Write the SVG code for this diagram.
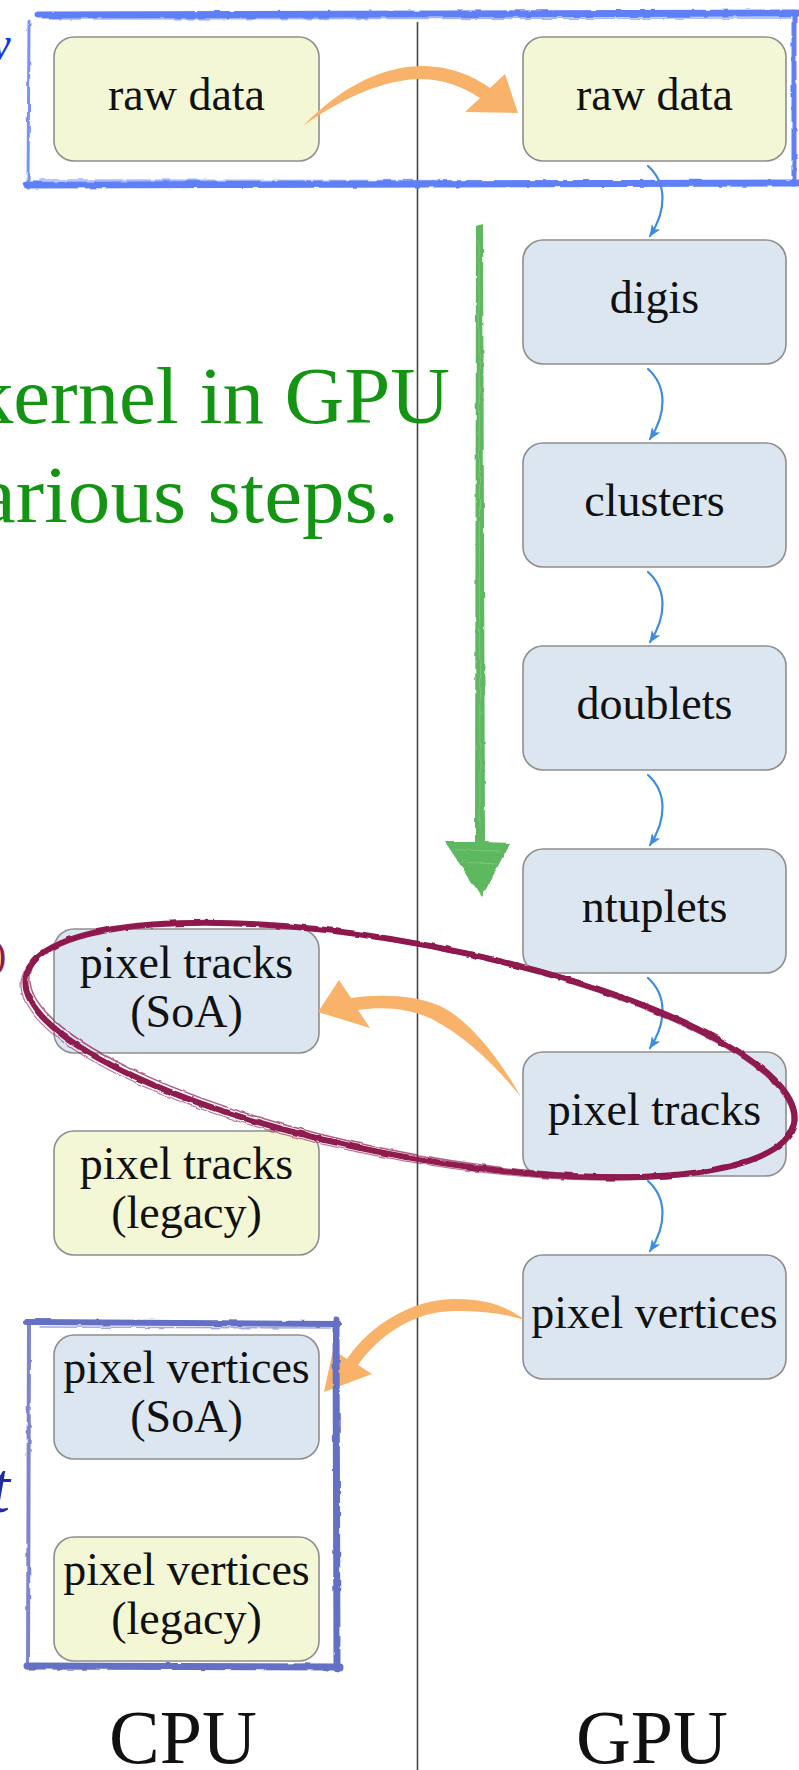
<svg xmlns="http://www.w3.org/2000/svg" width="799" height="1770" viewBox="0 0 799 1770">
<style>
.box{stroke:#8e8e8e;stroke-width:1.6}
.yel{fill:#F4F7D5}
.blu{fill:#DCE6F1}
.lbl{font-family:"Liberation Serif","Times New Roman",serif;font-size:46px;fill:#111;text-anchor:middle}
.cap{font-family:"Liberation Serif","Times New Roman",serif;font-size:76px;fill:#111;text-anchor:middle}
.green{font-family:"Liberation Serif","Times New Roman",serif;font-size:80px;fill:#139413}
.flow{fill:none;stroke:#3B8DE0;stroke-width:2.2;stroke-linecap:round}
.orange{fill:#F8B26A}
.tf{fill:none;stroke:#5F7FF7;stroke-linecap:round}
.bf{fill:none;stroke:#6470C4;stroke-linecap:round}
.ell{fill:none;stroke:#8F1A4F}
</style>
<defs>
<marker id="bh" viewBox="0 0 12 10" refX="11" refY="5" markerWidth="12" markerHeight="10" orient="auto" markerUnits="userSpaceOnUse">
<path d="M0,0 L12,5 L0,10 L3,5 Z" fill="#3B8DE0"/>
</marker>
<filter id="rough" filterUnits="userSpaceOnUse" x="0" y="0" width="799" height="1770">
<feTurbulence type="fractalNoise" baseFrequency="0.08" numOctaves="2" seed="3" result="n"/>
<feDisplacementMap in="SourceGraphic" in2="n" scale="3" xChannelSelector="R" yChannelSelector="G"/>
</filter>
</defs>

<!-- divider -->
<line id="divider" x1="417.5" y1="22" x2="417.5" y2="1770" stroke="#444" stroke-width="1.6"/>

<!-- cut-off margin texts -->
<text x="-21" y="60" font-family="'Liberation Serif',serif" font-style="italic" font-size="48" fill="#1536E8">w</text>
<text x="-7" y="968" font-family="'Liberation Serif',serif" font-size="40" fill="#8F1A4F">)</text>
<text x="-10" y="1512" font-family="'Liberation Serif',serif" font-style="italic" font-size="72" fill="#1d2f9e">t</text>

<!-- green annotation -->
<g id="note">
<text class="green" x="-28" y="423" textLength="478" lengthAdjust="spacingAndGlyphs">kernel in GPU</text>
<text class="green" x="-22" y="522" textLength="421" lengthAdjust="spacingAndGlyphs">arious steps.</text>
</g>
<g id="green-arrow" filter="url(#rough)">
<path d="M476 226 L483 224 L485 842 L510 843 L482 897 L445 842 L475 842 Z" fill="#5DB85E"/>
<path d="M479 240 L480 830 M455 850 L500 851 M462 862 L497 864" stroke="#8fd08f" stroke-width="1" opacity="0.6"/>
</g>

<!-- nodes -->
<g id="cpu-raw-data"><rect class="box yel" x="54" y="37" width="265" height="124" rx="20"/><text class="lbl" x="186.5" y="110">raw data</text></g>
<g id="gpu-raw-data"><rect class="box yel" x="523" y="37" width="263" height="124" rx="20"/><text class="lbl" x="654.5" y="110">raw data</text></g>
<g id="gpu-digis"><rect class="box blu" x="523" y="240" width="263" height="124" rx="20"/><text class="lbl" x="654.5" y="313">digis</text></g>
<g id="gpu-clusters"><rect class="box blu" x="523" y="443" width="263" height="124" rx="20"/><text class="lbl" x="654.5" y="516">clusters</text></g>
<g id="gpu-doublets"><rect class="box blu" x="523" y="646" width="263" height="124" rx="20"/><text class="lbl" x="654.5" y="719">doublets</text></g>
<g id="gpu-ntuplets"><rect class="box blu" x="523" y="849" width="263" height="124" rx="20"/><text class="lbl" x="654.5" y="922">ntuplets</text></g>
<g id="gpu-pixel-tracks"><rect class="box blu" x="523" y="1052" width="263" height="124" rx="20"/><text class="lbl" x="654.5" y="1125">pixel tracks</text></g>
<g id="gpu-pixel-vertices"><rect class="box blu" x="523" y="1255" width="263" height="124" rx="20"/><text class="lbl" x="654.5" y="1328">pixel vertices</text></g>
<g id="cpu-pixel-tracks-soa"><rect class="box blu" x="54" y="929" width="265" height="124" rx="20"/><text class="lbl" x="186.5" y="978">pixel tracks</text><text class="lbl" x="186.5" y="1027">(SoA)</text></g>
<g id="cpu-pixel-tracks-legacy"><rect class="box yel" x="54" y="1131" width="265" height="124" rx="20"/><text class="lbl" x="186.5" y="1179">pixel tracks</text><text class="lbl" x="186.5" y="1228">(legacy)</text></g>
<g id="cpu-pixel-vertices-soa"><rect class="box blu" x="54" y="1335" width="265" height="124" rx="20"/><text class="lbl" x="186.5" y="1383">pixel vertices</text><text class="lbl" x="186.5" y="1432">(SoA)</text></g>
<g id="cpu-pixel-vertices-legacy"><rect class="box yel" x="54" y="1537" width="265" height="124" rx="20"/><text class="lbl" x="186.5" y="1585">pixel vertices</text><text class="lbl" x="186.5" y="1634">(legacy)</text></g>

<!-- connectors -->
<g id="connectors">
<path class="flow" marker-end="url(#bh)" d="M648 166 C667 183, 667 210, 650 236"/>
<path class="flow" marker-end="url(#bh)" d="M648 369 C667 386, 667 413, 650 439"/>
<path class="flow" marker-end="url(#bh)" d="M648 572 C667 589, 667 616, 650 642"/>
<path class="flow" marker-end="url(#bh)" d="M648 775 C667 792, 667 819, 650 845"/>
<path class="flow" marker-end="url(#bh)" d="M648 978 C667 995, 667 1022, 650 1048"/>
<path class="flow" marker-end="url(#bh)" d="M648 1181 C667 1198, 667 1225, 650 1251"/>
<path class="orange" d="M303 126 C340 88, 380 67, 420 66 C450 66, 472 75, 490 88 L505 74 L518 113 L465 112 L480 98 C462 86, 442 79, 419 79 C385 80, 345 96, 303 126 Z"/>
<path class="orange" d="M521 1097 C500 1060, 470 1020, 440 1006 C415 995, 380 994, 351 998 L339 980 L318 1012 L370 1028 L358 1010 C385 1006, 410 1009, 432 1019 C465 1036, 495 1065, 521 1097 Z"/>
<path class="orange" d="M525 1320 C505 1305, 485 1299, 455 1299 C412 1299, 370 1325, 347 1359 L333 1350 L324 1392 L372 1374 L358 1365 C380 1334, 415 1311, 455 1311 C485 1311, 505 1314, 525 1320 Z"/>
</g>

<!-- highlight ellipse -->
<g id="highlight" filter="url(#rough)">
<ellipse class="ell" cx="410" cy="1050" rx="391" ry="106" transform="rotate(10.8 410 1050)" stroke-width="6"/>
<ellipse class="ell" cx="411" cy="1049" rx="388" ry="103" transform="rotate(11.2 411 1049)" stroke-width="1.5" opacity="0.7"/>
<ellipse class="ell" cx="409" cy="1051" rx="394" ry="109" transform="rotate(10.5 409 1051)" stroke-width="1.2" opacity="0.6"/>
</g>

<!-- frames -->
<g id="frame-top" filter="url(#rough)">
<path class="tf" d="M38 15 L797 13" stroke-width="7"/>
<path class="tf" d="M60 19 L790 18" stroke-width="1.5" opacity="0.6"/>
<path class="tf" d="M27 185 L797 183" stroke-width="7"/>
<path class="tf" d="M40 180 L780 181" stroke-width="1.5" opacity="0.6"/>
<path class="tf" d="M29 22 L28 188" stroke-width="3" opacity="0.85"/>
<path class="tf" d="M794 14 L794 184" stroke-width="5"/>
</g>
<g id="frame-bottom" filter="url(#rough)">
<path class="bf" d="M26 1322 L339 1324" stroke-width="6"/>
<path class="bf" d="M40 1327 L330 1328" stroke-width="1.5" opacity="0.6"/>
<path class="bf" d="M336 1320 L337 1668" stroke-width="7"/>
<path class="bf" d="M27 1666 L340 1667" stroke-width="7"/>
<path class="bf" d="M29 1322 L28 1668" stroke-width="4" opacity="0.85"/>
</g>

<!-- column labels -->
<text class="cap" x="183" y="1763">CPU</text>
<text class="cap" x="652" y="1763">GPU</text>
</svg>
